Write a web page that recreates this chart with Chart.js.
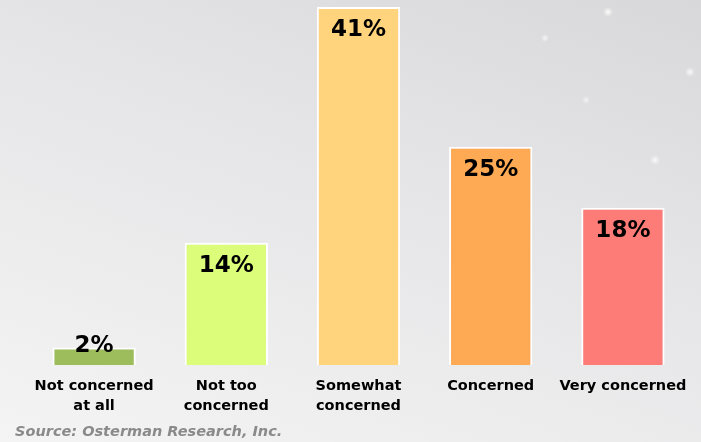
<!DOCTYPE html>
<html lang="en">
<head>
  <meta charset="UTF-8" />
  <title>Concern levels</title>
  <script src="https://cdn.jsdelivr.net/npm/chart.js"></script>
  <style>
    html, body { margin: 0; padding: 0; }
    body {
      width: 701px; height: 442px; overflow: hidden;
      background:
        radial-gradient(circle at 608px 12px, rgba(255,255,255,0.9) 0, rgba(255,255,255,0) 5px),
        radial-gradient(circle at 690px 72px, rgba(255,255,255,0.8) 0, rgba(255,255,255,0) 5px),
        radial-gradient(circle at 655px 160px, rgba(255,255,255,0.8) 0, rgba(255,255,255,0) 5px),
        radial-gradient(circle at 545px 38px, rgba(255,255,255,0.7) 0, rgba(255,255,255,0) 4px),
        radial-gradient(circle at 586px 100px, rgba(255,255,255,0.6) 0, rgba(255,255,255,0) 4px),
        linear-gradient(200deg, #d8d8da 0%, #e5e5e7 40%, #f4f4f4 100%);
    }
    canvas { display: block; }
  </style>
</head>
<body>
  <canvas id="chart" width="701" height="442"></canvas>

  <script>
    // chart data
    const categories = [['Not concerned', 'at all'], ['Not too', 'concerned'], ['Somewhat', 'concerned'], ['Concerned'], ['Very concerned']];
    const values = [2, 14, 41, 25, 18];
    const valueLabels = ['2%', '14%', '41%', '25%', '18%'];
    const barColors = ['#9dbd5c', '#dbfd7a', '#ffd47c', '#fea953', '#fe7c78'];
    const sourceText = 'Source: Osterman Research, Inc.';

    // draws the percentage inside each bar, plus the source line
    const labelPlugin = {
      id: 'labels',
      afterDatasetsDraw(chart) {
        const ctx = chart.ctx;
        const meta = chart.getDatasetMeta(0);
        ctx.save();
        ctx.fillStyle = '#000';
        ctx.font = 'bold 23px "DejaVu Sans", Verdana, sans-serif';
        ctx.textAlign = 'center';
        ctx.textBaseline = 'middle';
        meta.data.forEach((bar, i) => {
          const y = Math.min(bar.y + 23, bar.base - 19);
          ctx.fillText(valueLabels[i], bar.x, y);
        });
        ctx.font = 'italic bold 14.5px "DejaVu Sans", Verdana, sans-serif';
        ctx.fillStyle = '#8a8a8a';
        ctx.textAlign = 'left';
        ctx.fillText(sourceText, 15, 432);
        ctx.restore();
      }
    };

    new Chart(document.getElementById('chart'), {
      type: 'bar',
      data: {
        labels: categories,
        datasets: [{
          data: values,
          backgroundColor: barColors,
          borderColor: '#ffffff',
          borderWidth: 2,
          barPercentage: 0.63,
          categoryPercentage: 1
        }]
      },
      options: {
        responsive: false,
        animation: false,
        layout: { padding: { top: 7, left: 28, right: 12, bottom: 0 } },
        plugins: {
          legend: { display: false },
          tooltip: { enabled: false }
        },
        scales: {
          y: { display: false, min: 0, max: 41 },
          x: {
            grid: { display: false, drawTicks: false },
            border: { display: false },
            ticks: {
              padding: 11,
              color: '#000',
              maxRotation: 0,
              autoSkip: false,
              font: { family: '"DejaVu Sans", Verdana, sans-serif', size: 14.5, weight: 'bold', lineHeight: 1.4 }
            },
            afterFit(scale) { scale.height = 77; }
          }
        }
      },
      plugins: [labelPlugin]
    });
  </script>
</body>
</html>
